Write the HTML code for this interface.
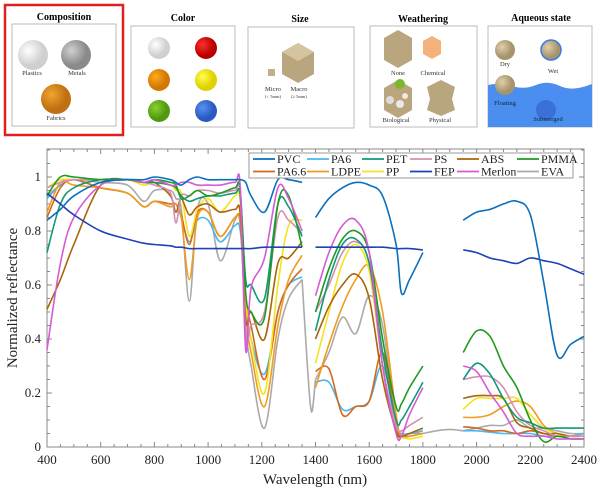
<!DOCTYPE html>
<html><head><meta charset="utf-8"><style>
body{margin:0;background:#fff}
svg{display:block;font-family:"Liberation Serif",serif}
</style></head><body>
<svg id="s" width="600" height="493" viewBox="0 0 600 493">
<defs>
<radialGradient id="gW" cx="0.35" cy="0.35"><stop offset="0" stop-color="#fff"/><stop offset="1" stop-color="#cfcfcf"/></radialGradient>
<radialGradient id="gM" cx="0.35" cy="0.35"><stop offset="0" stop-color="#d0d0d0"/><stop offset="1" stop-color="#8a8a8a"/></radialGradient>
<radialGradient id="gF" cx="0.35" cy="0.35"><stop offset="0" stop-color="#f2a530"/><stop offset="1" stop-color="#c07010"/></radialGradient>
<radialGradient id="gR" cx="0.35" cy="0.35"><stop offset="0" stop-color="#ff3030"/><stop offset="1" stop-color="#b80000"/></radialGradient>
<radialGradient id="gO" cx="0.35" cy="0.35"><stop offset="0" stop-color="#ffaa20"/><stop offset="1" stop-color="#d07800"/></radialGradient>
<radialGradient id="gY" cx="0.35" cy="0.35"><stop offset="0" stop-color="#ffff50"/><stop offset="1" stop-color="#e0d000"/></radialGradient>
<radialGradient id="gG" cx="0.35" cy="0.35"><stop offset="0" stop-color="#8ad030"/><stop offset="1" stop-color="#4f9a10"/></radialGradient>
<radialGradient id="gB" cx="0.35" cy="0.35"><stop offset="0" stop-color="#5a90f0"/><stop offset="1" stop-color="#2a5ac0"/></radialGradient>
<radialGradient id="gT" cx="0.35" cy="0.35"><stop offset="0" stop-color="#e0cfae"/><stop offset="1" stop-color="#a8946c"/></radialGradient>
</defs>

<g font-size="6.5" text-anchor="middle" fill="#333">
<rect x="5" y="5" width="118" height="130" fill="none" stroke="#e02020" stroke-width="2.5"/>
<text x="64" y="20" font-size="10" font-weight="bold" fill="#000">Composition</text>
<rect x="12" y="24" width="104" height="102" fill="#fff" stroke="#bbb"/>
<circle cx="33" cy="55" r="15" fill="url(#gW)"/><circle cx="76" cy="55" r="15" fill="url(#gM)"/><circle cx="56" cy="99" r="15" fill="url(#gF)"/>
<text x="32" y="75">Plastics</text><text x="77" y="75">Metals</text><text x="56" y="120">Fabrics</text>

<text x="183" y="21" font-size="10" font-weight="bold" fill="#000">Color</text>
<rect x="131" y="26" width="104" height="101" fill="#fff" stroke="#bbb"/>
<circle cx="159" cy="48" r="11" fill="url(#gW)"/><circle cx="206" cy="48" r="11" fill="url(#gR)"/>
<circle cx="159" cy="80" r="11" fill="url(#gO)"/><circle cx="206" cy="80" r="11" fill="url(#gY)"/>
<circle cx="159" cy="111" r="11" fill="url(#gG)"/><circle cx="206" cy="111" r="11" fill="url(#gB)"/>

<text x="300" y="22" font-size="10" font-weight="bold" fill="#000">Size</text>
<rect x="248" y="27" width="106" height="101" fill="#fff" stroke="#bbb"/>
<rect x="268" y="69" width="7" height="7" fill="#c2b08a"/>
<polygon points="282,52 298,43 314,52 314,74 298,83 282,74" fill="#b9a67f"/><polygon points="282,52 298,43 314,52 298,61" fill="#d4c4a0"/>
<text x="273" y="91">Micro</text><text x="273" y="98" font-size="4.5">(&lt; 5mm)</text>
<text x="299" y="91">Macro</text><text x="299" y="98" font-size="4.5">(≥ 5mm)</text>

<text x="423" y="22" font-size="10" font-weight="bold" fill="#000">Weathering</text>
<rect x="370" y="26" width="107" height="101" fill="#fff" stroke="#bbb"/>
<polygon points="384,38 398,30 412,38 412,60 398,68 384,60" fill="#b9a67f"/>
<polygon points="423,41 432,36 441,41 441,54 432,59 423,54" fill="#f4b27a"/>
<polygon points="384,88 398,80 412,88 412,110 398,118 384,110" fill="#b9a67f"/>
<circle cx="390" cy="100" r="4" fill="#ddd"/><circle cx="400" cy="104" r="4" fill="#e8e8e8"/><circle cx="405" cy="96" r="3" fill="#f0e8d8"/><circle cx="400" cy="84" r="5" fill="#7ab830"/>
<polygon points="427,87 441,80 455,87 452,99 455,110 441,116 427,110 430,99" fill="#b9a67f"/>
<text x="398" y="75">None</text><text x="433" y="75">Chemical</text><text x="396" y="122">Biological</text><text x="440" y="122">Physical</text>

<text x="541" y="21" font-size="10" font-weight="bold" fill="#000">Aqueous state</text>
<rect x="488" y="26" width="104" height="101" fill="#fff" stroke="#bbb"/>
<path d="M488,85 Q500,82 512,86 T536,85 T560,86 T592,84 L592,127 L488,127Z" fill="#4a8ef0"/>
<circle cx="505" cy="50" r="10" fill="url(#gT)"/>
<circle cx="551" cy="50" r="10" fill="url(#gT)" stroke="#3a7ae0" stroke-width="1.5"/>
<circle cx="505" cy="85" r="10" fill="url(#gT)"/>
<circle cx="546" cy="110" r="10" fill="#3a70d8"/>
<text x="505" y="66">Dry</text><text x="553" y="73">Wet</text><text x="505" y="105" fill="#123">Floating</text><text x="548" y="121" fill="#123">Submerged</text>
</g>

<g id="chart"></g>
</svg>
<script>
const seg1Wl=[400,450,500,600,700,760,800,860,880,900,930,960,1000,1045,1100,1120,1140,1160,1210,1260,1300,1350];
const seg2Wl=[1400,1450,1500,1550,1600,1650,1700,1720,1750,1800];
const seg3Wl=[1950,2000,2050,2100,2150,2200,2250,2300,2350,2400];
const evaGapWl1=[1350,1370,1385,1400];
const evaGapVals1=[0.62,0.30,0.13,0.25];
const evaGapWl2=[1800,1850,1900,1950];
const evaGapVals2=[0.05,0.06,0.065,0.06];
const seriesNames=["PVC","PA6","PET","PS","ABS","PMMA","PA6.6","LDPE","PP","FEP","Merlon","EVA"];
const seriesColors=["#0a6fbd","#4cb5ec","#0f9a78","#d68fb0","#a8650a","#1f9a1f","#d2691e","#f29b1e","#f5e21e","#2040b8","#d65ad6","#aaaaaa"];
const s1=[
[0.84,0.88,0.93,0.98,0.99,0.99,1.0,0.99,0.98,0.97,0.99,1.0,0.99,0.99,0.99,0.99,0.98,0.93,0.87,0.99,0.99,0.98],
[0.92,0.97,0.99,0.96,0.94,0.89,0.91,0.89,0.90,0.85,0.76,0.84,0.84,0.76,0.82,0.80,0.55,0.40,0.27,0.50,0.60,0.63],
[0.72,0.90,0.96,0.99,0.99,0.98,0.98,0.97,0.96,0.93,0.91,0.92,0.93,0.93,0.94,0.93,0.62,0.60,0.55,0.90,0.89,0.78],
[0.96,0.98,0.99,0.99,0.99,0.98,0.97,0.94,0.83,0.93,0.93,0.95,0.95,0.94,0.95,0.93,0.40,0.45,0.50,0.85,0.84,0.79],
[0.51,0.62,0.75,0.97,0.99,0.98,0.98,0.93,0.87,0.92,0.86,0.89,0.90,0.87,0.88,0.86,0.47,0.50,0.40,0.68,0.70,0.76],
[0.93,1.0,1.0,0.99,0.99,0.98,0.99,0.98,0.97,0.92,0.93,0.95,0.93,0.94,0.96,0.95,0.57,0.50,0.48,0.90,0.93,0.74],
[0.85,0.96,0.99,0.96,0.94,0.89,0.91,0.90,0.90,0.86,0.75,0.87,0.87,0.78,0.85,0.83,0.55,0.45,0.25,0.50,0.60,0.66],
[0.87,0.98,0.97,0.96,0.94,0.89,0.91,0.89,0.90,0.85,0.62,0.85,0.87,0.78,0.85,0.83,0.50,0.35,0.15,0.45,0.62,0.71],
[0.96,0.99,0.99,0.99,0.99,0.97,0.98,0.97,0.95,0.94,0.78,0.88,0.92,0.87,0.93,0.91,0.55,0.40,0.20,0.60,0.82,0.84],
[0.94,0.90,0.86,0.80,0.77,0.755,0.75,0.745,0.74,0.74,0.735,0.735,0.735,0.735,0.735,0.735,0.735,0.735,0.74,0.74,0.74,0.74],
[0.36,0.68,0.85,0.97,0.99,0.98,0.99,0.97,0.97,0.98,0.98,0.97,0.97,0.97,0.98,0.96,0.36,0.59,0.70,0.96,0.92,0.80],
[0.93,0.97,0.99,0.98,0.97,0.91,0.95,0.95,0.92,0.88,0.54,0.88,0.90,0.69,0.84,0.82,0.45,0.30,0.07,0.40,0.55,0.62]];
const s2=[
[0.85,0.92,0.96,0.98,0.97,0.93,0.75,0.57,0.62,0.72],
[0.24,0.24,0.14,0.15,0.17,0.30,0.08,0.05,0.05,0.06],
[0.43,0.62,0.75,0.77,0.68,0.35,0.10,0.10,0.15,0.24],
[0.50,0.60,0.72,0.76,0.68,0.30,0.08,0.06,0.08,0.11],
[0.40,0.52,0.60,0.64,0.55,0.25,0.06,0.04,0.05,0.07],
[0.50,0.66,0.77,0.80,0.72,0.40,0.15,0.16,0.22,0.30],
[0.28,0.29,0.12,0.15,0.17,0.35,0.08,0.04,0.04,0.05],
[0.22,0.38,0.52,0.62,0.67,0.50,0.12,0.04,0.04,0.05],
[0.31,0.50,0.68,0.75,0.65,0.30,0.06,0.04,0.03,0.04],
[0.74,0.74,0.74,0.74,0.74,0.74,0.735,0.735,0.735,0.73],
[0.56,0.72,0.82,0.84,0.72,0.30,0.05,0.04,0.12,0.22],
[0.25,0.35,0.48,0.42,0.56,0.45,0.08,0.04,0.05,0.05]];
const s3=[
[0.84,0.87,0.88,0.90,0.91,0.86,0.61,0.34,0.38,0.41],
[0.06,0.06,0.055,0.05,0.05,0.05,0.04,0.04,0.04,0.05],
[0.25,0.31,0.27,0.18,0.11,0.09,0.07,0.07,0.07,0.07],
[0.25,0.26,0.26,0.22,0.13,0.08,0.06,0.04,0.04,0.04],
[0.18,0.19,0.19,0.18,0.09,0.07,0.05,0.05,0.04,0.04],
[0.35,0.43,0.41,0.30,0.22,0.10,0.02,0.04,0.03,0.03],
[0.075,0.07,0.06,0.06,0.05,0.06,0.05,0.04,0.04,0.04],
[0.11,0.11,0.12,0.15,0.17,0.15,0.08,0.05,0.04,0.04],
[0.14,0.18,0.18,0.18,0.18,0.12,0.07,0.05,0.04,0.04],
[0.73,0.72,0.70,0.69,0.68,0.70,0.69,0.68,0.66,0.64],
[0.30,0.28,0.20,0.13,0.05,0.04,0.04,0.03,0.03,0.03],
[0.06,0.07,0.08,0.08,0.10,0.07,0.07,0.06,0.05,0.05]];
const xTicks=[400,600,800,1000,1200,1400,1600,1800,2000,2200,2400];
const yTicks=[0,0.2,0.4,0.6,0.8,1];

const NS="http://www.w3.org/2000/svg";
const g=document.getElementById('chart');
const L=47,R=584,T=149,B=447;
const xS=w=>L+(w-400)/2000*(R-L);
const yS=v=>B-v*270;
function mk(t,a,p){const e=document.createElementNS(NS,t);for(const k in a)e.setAttribute(k,a[k]);(p||g).appendChild(e);return e;}
function pathD(xs,ys){const P=xs.map((x,i)=>[xS(x),yS(ys[i])]);let d="M"+P[0][0].toFixed(1)+","+P[0][1].toFixed(1);
for(let i=0;i<P.length-1;i++){const p0=P[i-1]||P[i],p1=P[i],p2=P[i+1],p3=P[i+2]||P[i+1];
const c1=[p1[0]+(p2[0]-p0[0])/6,p1[1]+(p2[1]-p0[1])/6],c2=[p2[0]-(p3[0]-p1[0])/6,p2[1]-(p3[1]-p1[1])/6];
d+=`C${c1[0].toFixed(1)},${c1[1].toFixed(1)} ${c2[0].toFixed(1)},${c2[1].toFixed(1)} ${p2[0].toFixed(1)},${p2[1].toFixed(1)}`;}return d;}

const fr=mk('rect',{x:L,y:T,width:R-L,height:B-T,fill:'none',stroke:'#888','stroke-width':1});


for(let w=400;w<=2400;w+=50){const len=(w%200===0)?5:3;
mk('line',{x1:xS(w),x2:xS(w),y1:B,y2:B-len,stroke:'#888'});mk('line',{x1:xS(w),x2:xS(w),y1:T,y2:T+len,stroke:'#888'});}
for(let k=0;k<=22;k++){const v=k*0.05,len=(k%4===0)?5:3;
mk('line',{x1:L,x2:L+len,y1:yS(v),y2:yS(v),stroke:'#888'});mk('line',{x1:R,x2:R-len,y1:yS(v),y2:yS(v),stroke:'#888'});}
xTicks.forEach(w=>{const t=mk('text',{x:xS(w),y:B+17,'text-anchor':'middle','font-size':13,fill:'#222'});t.textContent=w;

});
yTicks.forEach(v=>{const t=mk('text',{x:L-6,y:yS(v)+4,'text-anchor':'end','font-size':13,fill:'#222'});t.textContent=v;

});
const xl=mk('text',{x:315,y:484,'text-anchor':'middle','font-size':15,fill:'#222'});xl.textContent='Wavelength (nm)';


const yl=mk('text',{x:17,y:298,'text-anchor':'middle','font-size':15,fill:'#222',transform:'rotate(-90 17 298)'});yl.textContent='Normalized reflectance';



const order=[11,1,6,7,8,4,3,2,5,10,9,0];
order.forEach(i=>{const sg=mk('g',{fill:'none',stroke:seriesColors[i],'stroke-width':1.6});


mk('path',{d:pathD(seg1Wl,s1[i])},sg);mk('path',{d:pathD(seg2Wl,s2[i])},sg);mk('path',{d:pathD(seg3Wl,s3[i])},sg);
if(seriesNames[i]==='EVA'){mk('path',{d:pathD(evaGapWl1,evaGapVals1)},sg);mk('path',{d:pathD(evaGapWl2,evaGapVals2)},sg);}});

const lg=mk('g',{});


mk('rect',{x:249,y:153,width:324,height:25,fill:'#fff',stroke:'#999'},lg);
const colX=[253,307,362,410,457,517];
seriesNames.forEach((n,i)=>{const c=i%6,r=Math.floor(i/6),y=159+r*12.5;
const e=mk('g',{},lg);


mk('line',{x1:colX[c],x2:colX[c]+22,y1:y,y2:y,stroke:seriesColors[i],'stroke-width':1.8},e);
const t=mk('text',{x:colX[c]+24,y:y+4,'font-size':12,fill:'#222'},e);t.textContent=n;});
</script>
</body></html>
